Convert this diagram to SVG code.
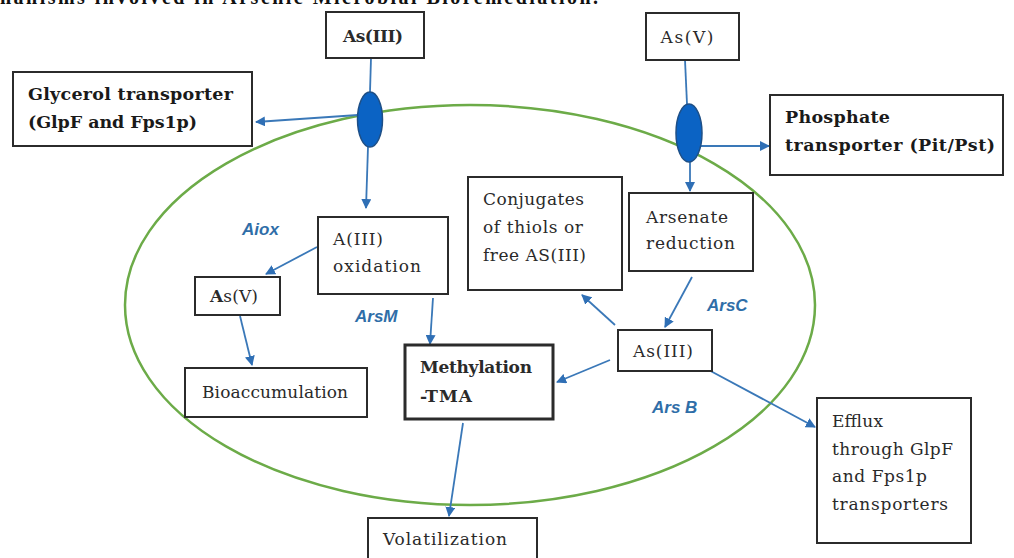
<svg xmlns="http://www.w3.org/2000/svg" width="1014" height="558" viewBox="0 0 1014 558">
<style>
.box{fill:#fff;stroke:#2b2b2b;stroke-width:2}
.thick{stroke-width:3}
.t{font-family:"DejaVu Serif","Liberation Serif",serif;font-size:17px;fill:#2a2a2a}
.tb{font-family:"DejaVu Serif","Liberation Serif",serif;font-size:17.5px;font-weight:bold;fill:#1a1a1a}
.lab{font-family:"Liberation Sans","DejaVu Sans",sans-serif;font-size:17px;font-weight:bold;font-style:italic;fill:#2f6ea8}
.c{fill:none;stroke:#3a78b8;stroke-width:1.8}
.tp{fill:#0b63c4;stroke:#1e4f86;stroke-width:1.5}
</style>
<defs>
<marker id="ah" viewBox="0 0 10 10" refX="9" refY="5" markerWidth="10" markerHeight="10" markerUnits="userSpaceOnUse" orient="auto">
<path d="M0,0 L10,5 L0,10 z" fill="#2f6fb5"/>
</marker>
</defs>
<rect width="1014" height="558" fill="#fff"/>
<text x="0" y="4" font-family="Liberation Serif,serif" font-size="20" font-weight="bold" fill="#111" textLength="598">hanisms involved in Arsenic Microbial Bioremediation.</text>
<ellipse cx="470" cy="305" rx="345" ry="200" fill="none" stroke="#6cab48" stroke-width="2.5"/>
<g id="connectors">
<line class="c" x1="371" y1="58" x2="370" y2="92"/>
<line class="c" x1="358" y1="115" x2="256" y2="122" marker-end="url(#ah)"/>
<line class="c" x1="368" y1="147" x2="366" y2="208" marker-end="url(#ah)"/>
<line class="c" x1="685" y1="60" x2="687" y2="104"/>
<line class="c" x1="701" y1="146" x2="769" y2="146" marker-end="url(#ah)"/>
<line class="c" x1="690" y1="162" x2="690" y2="191" marker-end="url(#ah)"/>
<line class="c" x1="317" y1="247" x2="266" y2="274" marker-end="url(#ah)"/>
<line class="c" x1="240" y1="316" x2="252" y2="365" marker-end="url(#ah)"/>
<line class="c" x1="433" y1="298" x2="430" y2="344" marker-end="url(#ah)"/>
<line class="c" x1="692" y1="277" x2="665" y2="327" marker-end="url(#ah)"/>
<line class="c" x1="615" y1="325" x2="582" y2="295" marker-end="url(#ah)"/>
<line class="c" x1="610" y1="360" x2="557" y2="382" marker-end="url(#ah)"/>
<line class="c" x1="705" y1="368" x2="815" y2="427" marker-end="url(#ah)"/>
<line class="c" x1="463" y1="423" x2="449" y2="516" marker-end="url(#ah)"/>
</g>
<g id="transporter-1"><ellipse class="tp" cx="370" cy="119.5" rx="12.5" ry="27.5"/></g>
<g id="transporter-2"><ellipse class="tp" cx="689" cy="133" rx="13" ry="29"/></g>
<g id="as3-top">
<rect class="box" x="326" y="12" width="98" height="46"/>
<text class="t" x="373" y="42" text-anchor="middle" font-weight="600" textLength="60">As(III)</text>
</g>
<g id="as5-top">
<rect class="box" x="646" y="13" width="93" height="47"/>
<text class="t" x="687" y="43" text-anchor="middle" textLength="53">As(V)</text>
</g>
<g id="glycerol">
<rect class="box" x="13" y="72" width="239" height="74"/>
<text class="tb" x="28" y="100" textLength="205">Glycerol transporter</text>
<text class="tb" x="28" y="128" textLength="169">(GlpF and Fps1p)</text>
</g>
<g id="phosphate">
<rect class="box" x="770" y="95" width="233" height="80"/>
<text class="tb" x="785" y="123" textLength="105">Phosphate</text>
<text class="tb" x="785" y="151" textLength="210">transporter (Pit/Pst)</text>
</g>
<g id="conjugates">
<rect class="box" x="468" y="177" width="154" height="113"/>
<text class="t" x="483" y="205" textLength="101">Conjugates</text>
<text class="t" x="483" y="233" textLength="100">of thiols or</text>
<text class="t" x="483" y="261" textLength="103">free AS(III)</text>
</g>
<g id="arsenate">
<rect class="box" x="629" y="193" width="124" height="78"/>
<text class="t" x="646" y="223" textLength="82">Arsenate</text>
<text class="t" x="646" y="249" textLength="89">reduction</text>
</g>
<g id="a3-oxidation">
<rect class="box" x="318" y="217" width="130" height="77"/>
<text class="t" x="333" y="245" textLength="50">A(III)</text>
<text class="t" x="333" y="272" textLength="88">oxidation</text>
</g>
<g id="as5-inner">
<rect class="box" x="195" y="277" width="85" height="38"/>
<text class="t" x="210" y="302" textLength="48"><tspan font-weight="bold">A</tspan>s(V)</text>
</g>
<g id="bioaccumulation">
<rect class="box" x="185" y="368" width="182" height="49"/>
<text class="t" x="202" y="398" textLength="146">Bioaccumulation</text>
</g>
<g id="methylation">
<rect class="box thick" x="405" y="345" width="148" height="74"/>
<text class="t" x="420" y="373" font-weight="600" textLength="112">Methylation</text>
<text class="t" x="420" y="402" font-weight="600" textLength="52">-TMA</text>
</g>
<g id="as3-inner">
<rect class="box" x="618" y="330" width="94" height="41"/>
<text class="t" x="663" y="357" text-anchor="middle" textLength="60">As(III)</text>
</g>
<g id="efflux">
<rect class="box" x="817" y="398" width="154" height="145"/>
<text class="t" x="832" y="427" textLength="51">Efflux</text>
<text class="t" x="832" y="455" textLength="121">through GlpF</text>
<text class="t" x="832" y="482" textLength="95">and Fps1p</text>
<text class="t" x="832" y="510" textLength="116">transporters</text>
</g>
<g id="volatilization">
<rect class="box" x="368" y="518" width="169" height="60"/>
<text class="t" x="383" y="545" textLength="124">Volatilization</text>
</g>
<g id="labels">
<text class="lab" x="242" y="235">Aiox</text>
<text class="lab" x="355" y="322">ArsM</text>
<text class="lab" x="707" y="311">ArsC</text>
<text class="lab" x="652" y="413">Ars B</text>
</g>
</svg>
